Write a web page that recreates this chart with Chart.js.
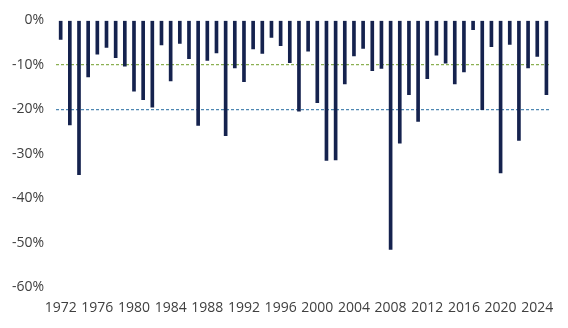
<!DOCTYPE html>
<html lang="en">
<head>
  <meta charset="UTF-8">
  <title>Intra-year declines</title>
  <script src="https://cdn.jsdelivr.net/npm/chart.js"></script>
  <style>
    html, body { margin: 0; padding: 0; background: #fff; }
    #wrap { width: 568px; height: 328px; }
  </style>
</head>
<body>
  <div id="wrap">
    <canvas id="myChart"></canvas>
  </div>

  <script>
    // years 1972..2025
    const years = [];
    for (let y = 1972; y <= 2025; y++) years.push(String(y));

    // max drawdown within each year, in %
    const drawdowns = [
      -4.3, -23.5, -34.7, -12.7, -7.6, -6.1, -8.4, -10.3, -15.9, -17.8,
      -19.5, -5.5, -13.6, -5.2, -8.6, -23.6, -9.0, -7.3, -25.9, -10.7,
      -13.8, -6.4, -7.4, -3.8, -5.7, -9.5, -20.4, -6.9, -18.5, -31.5,
      -31.4, -14.3, -8.0, -6.3, -11.3, -10.8, -51.5, -27.6, -16.7, -22.7,
      -13.1, -7.8, -9.6, -14.3, -11.6, -2.1, -20.1, -5.9, -34.3, -5.4,
      -27.0, -10.7, -8.1, -16.7
    ];

    const yTicks = [0, -10, -20, -30, -40, -50, -60];
    const tickYears = ['1972', '1976', '1980', '1984', '1988', '1992', '1996',
      '2000', '2004', '2008', '2012', '2016', '2020', '2024'];

    const ctx = document.getElementById('myChart').getContext('2d');
    new Chart(ctx, {
      type: 'bar',
      data: {
        labels: years,
        datasets: [{
          data: drawdowns,
          backgroundColor: '#15224e',
          barThickness: 3
        }]
      },
      options: {
        responsive: true,
        maintainAspectRatio: false,
        animation: false,
        layout: { padding: { top: 1, right: 17, left: 0, bottom: 0 } },
        plugins: {
          legend: { display: false },
          tooltip: { enabled: false }
        },
        scales: {
          x: {
            grid: { display: false, drawTicks: false },
            border: { display: false },
            ticks: {
              autoSkip: false,
              maxRotation: 0,
              padding: 12,
              color: '#404040',
              font: { family: 'Open Sans', size: 14 },
              callback: function (value) {
                const lab = this.getLabelForValue(value);
                return tickYears.includes(lab) ? lab : null;
              }
            }
          },
          y: {
            min: -60,
            max: 0,
            afterBuildTicks: function (axis) {
              axis.ticks = yTicks.map(v => ({ value: v }));
            },
            grid: {
              drawTicks: false,
              lineWidth: 1.3,
              color: function (c) {
                if (c.tick.value === -10) return '#8cb152';
                if (c.tick.value === -20) return '#4f88b3';
                return 'rgba(0,0,0,0)';
              }
            },
            border: { display: false, dash: [3, 2] },
            ticks: {
              padding: 12,
              color: '#404040',
              font: { family: 'Open Sans', size: 14 },
              callback: function (value) {
                return value + '%';
              }
            }
          }
        }
      }
    });
  </script>
</body>
</html>
